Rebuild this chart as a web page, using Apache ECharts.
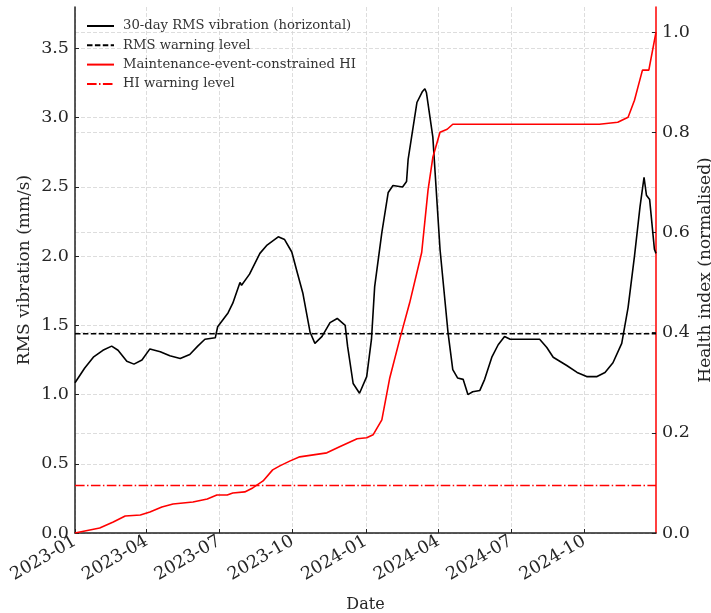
<!DOCTYPE html>
<html>
<head>
<meta charset="utf-8">
<title>RMS vibration and health index</title>
<script src="https://cdn.jsdelivr.net/npm/echarts@6/dist/echarts.min.js"></script>
<style>
  html, body { margin: 0; padding: 0; background: #fff; }
  #chart { width: 711px; height: 613px; }
</style>
</head>
<body>
<div id="chart"></div>
<script>
// 30-day RMS vibration (horizontal), mm/s
const rmsDates = [
  '2023-01-01','2023-01-13','2023-01-24','2023-02-05','2023-02-16','2023-02-24','2023-03-07','2023-03-16',
  '2023-03-26','2023-04-05','2023-04-18','2023-04-30','2023-05-13','2023-05-25','2023-06-04','2023-06-13',
  '2023-06-26','2023-06-29','2023-07-12','2023-07-18','2023-07-27','2023-07-29','2023-08-08','2023-08-21',
  '2023-08-30','2023-09-13','2023-09-21','2023-09-30','2023-10-06','2023-10-14','2023-10-23','2023-10-29',
  '2023-11-07','2023-11-17','2023-11-26','2023-12-06','2023-12-09','2023-12-16','2023-12-24','2024-01-02',
  '2024-01-08','2024-01-12','2024-01-21','2024-01-29','2024-02-04','2024-02-16','2024-02-21','2024-02-23',
  '2024-03-05','2024-03-12','2024-03-15','2024-03-17','2024-03-25','2024-04-03','2024-04-07','2024-04-13',
  '2024-04-19','2024-04-25','2024-05-02','2024-05-08','2024-05-14','2024-05-23','2024-05-29','2024-06-07',
  '2024-06-15','2024-06-23','2024-06-30','2024-08-06','2024-08-15','2024-08-23','2024-09-09','2024-09-22',
  '2024-10-04','2024-10-17','2024-10-27','2024-11-06','2024-11-17','2024-11-25','2024-12-03','2024-12-10',
  '2024-12-15','2024-12-18','2024-12-22','2024-12-28','2024-12-30'
];
const rmsValues = [
  1.085,1.19,1.27,1.32,1.35,1.32,1.24,1.22,
  1.25,1.33,1.31,1.28,1.26,1.29,1.35,1.40,
  1.41,1.49,1.59,1.66,1.81,1.79,1.87,2.02,
  2.08,2.14,2.12,2.03,1.90,1.73,1.45,1.37,
  1.42,1.52,1.55,1.50,1.35,1.08,1.01,1.13,
  1.40,1.78,2.17,2.46,2.51,2.50,2.54,2.70,
  3.11,3.19,3.21,3.18,2.86,2.05,1.81,1.45,
  1.18,1.12,1.11,1.00,1.02,1.03,1.11,1.27,
  1.36,1.42,1.40,1.40,1.34,1.27,1.21,1.16,
  1.13,1.13,1.16,1.23,1.37,1.63,2.00,2.36,
  2.57,2.44,2.41,2.05,2.02
];

// Maintenance-event-constrained health index (normalised)
const hiDates = [
  '2023-01-01','2023-02-01','2023-02-18','2023-03-05','2023-03-24','2023-04-05','2023-04-20','2023-05-04',
  '2023-05-29','2023-06-16','2023-06-28','2023-07-11','2023-07-18','2023-08-02','2023-08-12','2023-08-25',
  '2023-09-06','2023-09-15','2023-09-28','2023-10-10','2023-10-27','2023-11-13','2023-11-29','2023-12-21',
  '2024-01-02','2024-01-10','2024-01-21','2024-01-31','2024-02-13','2024-02-25','2024-03-11','2024-03-19',
  '2024-03-25','2024-04-03','2024-04-12','2024-04-19','2024-10-20','2024-11-12','2024-11-25','2024-12-03',
  '2024-12-08','2024-12-13','2024-12-21','2024-12-30'
];
const hiValues = [
  0.000,0.010,0.022,0.034,0.036,0.042,0.052,0.058,
  0.062,0.068,0.076,0.076,0.080,0.082,0.090,0.104,
  0.126,0.134,0.144,0.152,0.156,0.160,0.172,0.188,
  0.190,0.196,0.226,0.310,0.390,0.460,0.560,0.685,
  0.750,0.800,0.806,0.816,0.816,0.820,0.830,0.864,
  0.894,0.924,0.924,1.000
];

const rmsWarning = 1.44;
const hiWarning = 0.095;

const dateStart = '2023-01-01';
const dateEnd = '2024-12-30';
const dateTicks = ['2023-01-01','2023-04-01','2023-07-01','2023-10-01','2024-01-01','2024-04-01','2024-07-01','2024-10-01'];
const rmsTicks = [0, 0.5, 1.0, 1.5, 2.0, 2.5, 3.0, 3.5];
const hiTicks = [0, 0.2, 0.4, 0.6, 0.8, 1.0];

const seriesNames = [
  '30-day RMS vibration (horizontal)',
  'RMS warning level',
  'Maintenance-event-constrained HI',
  'HI warning level'
];

// Dates are placed on a numeric (epoch ms, UTC) axis so the quarterly ticks can be listed explicitly.
function toTime(s) {
  const p = s.split('-').map(Number);
  return Date.UTC(p[0], p[1] - 1, p[2]);
}
const pair = (ds, vs) => ds.map((d, i) => [toTime(d), vs[i]]);
const fmtMonth = v => { const d = new Date(v); return d.getUTCFullYear() + '-' + String(d.getUTCMonth() + 1).padStart(2, '0'); };

const FONT = 'DejaVu Serif';
const TXT = '#262626';
const gridLine = { show: true, lineStyle: { color: '#d4d4d4', width: 0.8, type: [4, 2] } };

const chart = echarts.init(document.getElementById('chart'), null, { renderer: 'canvas' });
chart.setOption({
  animation: false,
  backgroundColor: '#ffffff',
  textStyle: { fontFamily: FONT },
  grid: { left: 75, right: 55, top: 7, bottom: 80, containLabel: false, outerBoundsMode: 'none' },
  legend: {
    data: seriesNames,
    orient: 'vertical',
    left: 81,
    top: 14,
    itemWidth: 27,
    itemHeight: 14,
    itemGap: 5.3,
    itemStyle: { opacity: 0 },
    textStyle: { fontFamily: FONT, fontSize: 13.2, color: '#333', padding: [0, 0, 0, 4], lineHeight: 14 },
    selectedMode: false
  },
  xAxis: {
    type: 'value',
    min: toTime(dateStart),
    max: toTime(dateEnd),
    name: 'Date',
    nameLocation: 'middle',
    nameGap: 64,
    nameMoveOverlap: false,
    nameTextStyle: { fontFamily: FONT, fontSize: 16, color: TXT },
    axisLine: { show: true, onZero: false, lineStyle: { color: '#222', width: 1.5 } },
    axisTick: { show: true, inside: true, length: 4, lineStyle: { color: '#222' }, customValues: dateTicks.map(toTime) },
    axisLabel: {
      fontFamily: FONT, fontSize: 17.5, color: TXT, rotate: 30, margin: 7,
      customValues: dateTicks.map(toTime),
      formatter: fmtMonth
    },
    splitLine: gridLine
  },
  yAxis: [
    {
      type: 'value',
      min: 0,
      max: 3.8,
      position: 'left',
      name: 'RMS vibration (mm/s)',
      nameLocation: 'middle',
      nameGap: 42,
      nameMoveOverlap: false,
      nameTextStyle: { fontFamily: FONT, fontSize: 17, color: TXT },
      axisLine: { show: true, onZero: false, lineStyle: { color: '#222', width: 1.5 } },
      axisTick: { show: true, inside: true, length: 4, lineStyle: { color: '#222' }, customValues: rmsTicks },
      axisLabel: { fontFamily: FONT, fontSize: 17.5, color: TXT, margin: 6, customValues: rmsTicks, formatter: v => v.toFixed(1) },
      splitLine: gridLine
    },
    {
      type: 'value',
      min: 0,
      max: 1.05,
      position: 'right',
      name: 'Health index (normalised)',
      nameLocation: 'middle',
      nameGap: 41,
      nameMoveOverlap: false,
      nameTextStyle: { fontFamily: FONT, fontSize: 17, color: TXT },
      axisLine: { show: true, onZero: false, lineStyle: { color: '#ff0000', width: 1.5 } },
      axisTick: { show: true, inside: true, length: 4, lineStyle: { color: '#222' }, customValues: hiTicks },
      axisLabel: { fontFamily: FONT, fontSize: 17.5, color: TXT, margin: 6, customValues: hiTicks, formatter: v => v.toFixed(1) },
      splitLine: gridLine
    }
  ],
  series: [
    {
      name: seriesNames[0],
      type: 'line',
      yAxisIndex: 0,
      data: pair(rmsDates, rmsValues),
      symbol: 'none',
      lineStyle: { color: '#000', width: 1.6 },
      itemStyle: { color: '#000' },
      z: 3
    },
    {
      name: seriesNames[1],
      type: 'line',
      yAxisIndex: 0,
      data: [[toTime(dateStart), rmsWarning], [toTime(dateEnd), rmsWarning]],
      symbol: 'none',
      lineStyle: { color: '#000', width: 1.5, type: [5.5, 2.4] },
      itemStyle: { color: '#000' },
      z: 3
    },
    {
      name: seriesNames[2],
      type: 'line',
      yAxisIndex: 1,
      data: pair(hiDates, hiValues),
      symbol: 'none',
      lineStyle: { color: '#ff0000', width: 1.6 },
      itemStyle: { color: '#ff0000' },
      z: 4
    },
    {
      name: seriesNames[3],
      type: 'line',
      yAxisIndex: 1,
      data: [[toTime(dateStart), hiWarning], [toTime(dateEnd), hiWarning]],
      symbol: 'none',
      lineStyle: { color: '#ff0000', width: 1.5, type: [9.6, 2.4, 1.5, 2.4] },
      itemStyle: { color: '#ff0000' },
      z: 4
    }
  ]
});
</script>
</body>
</html>
